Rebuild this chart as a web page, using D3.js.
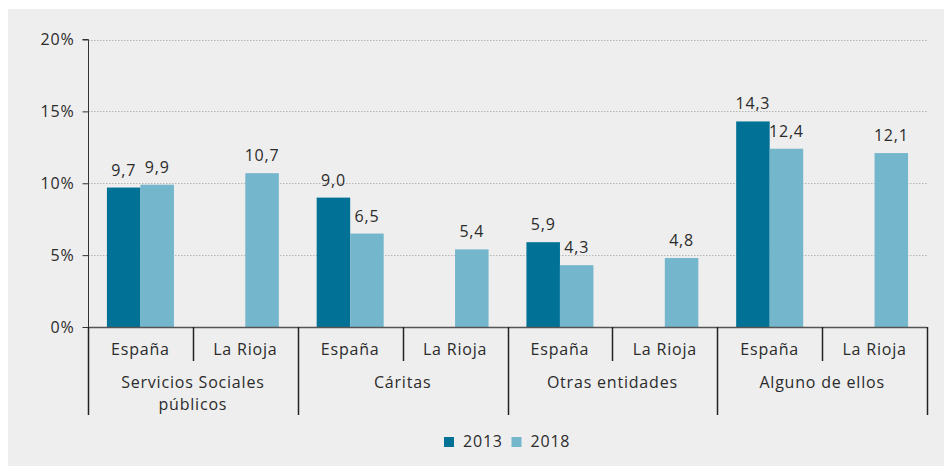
<!DOCTYPE html>
<html>
<head>
<meta charset="utf-8">
<script src="https://cdn.jsdelivr.net/npm/d3@7"></script>
<style>
  html, body { margin: 0; padding: 0; background: #ffffff; }
  svg { display: block; }
  text { font-family: "Open Sans", Lato, sans-serif; fill: #2b2b2b; letter-spacing: 0.8px; }
</style>
</head>
<body>
<svg id="chart" width="944" height="466"></svg>
<script>
// Groups of institutions and the territories inside each
const groups = ["Servicios Sociales públicos", "Cáritas", "Otras entidades", "Alguno de ellos"];
const groupLines = [["Servicios Sociales", "públicos"], ["Cáritas"], ["Otras entidades"], ["Alguno de ellos"]];
const territories = ["España", "La Rioja"];
const years = ["2013", "2018"];

// Percentages per slot (group × territory); null where no value exists
const values2013 = [9.7, null, 9.0, null, 5.9, null, 14.3, null];
const values2018 = [9.9, 10.7, 6.5, 5.4, 4.3, 4.8, 12.4, 12.1];

const yTicks = [0, 5, 10, 15, 20];
const colors = { "2013": "#017196", "2018": "#74b6cb" };

const svg = d3.select("#chart");
const W = 944, H = 466;
const FS = "16px";

// panel background
svg.append("rect").attr("x", 8).attr("y", 9).attr("width", W - 8).attr("height", H - 9).attr("fill", "#eeeeee");

const plotLeft = 88, plotRight = 927, plotTop = 39.5, plotBottom = 327;

const slots = [];
groups.forEach((g, gi) => territories.forEach((t, ti) => slots.push({ g: gi, t, key: gi + "-" + ti })));

const x = d3.scaleBand().domain(slots.map(s => s.key)).range([plotLeft, plotRight]).paddingInner(0).paddingOuter(0);
const xInner = d3.scaleBand().domain(years).range([0, x.bandwidth()]).paddingInner(0).paddingOuter(0.565);
const y = d3.scaleLinear().domain([0, 20]).range([plotBottom, plotTop]);

// grid lines
svg.append("g").selectAll("line").data(yTicks.filter(d => d > 0)).join("line")
  .attr("x1", plotLeft).attr("x2", plotRight)
  .attr("y1", d => Math.round(y(d)) + 0.5).attr("y2", d => Math.round(y(d)) + 0.5)
  .attr("stroke", "#b5b5b5").attr("stroke-width", 1).attr("stroke-dasharray", "1.5,1.5");

// y axis
const yAxis = d3.axisLeft(y).tickValues(yTicks).tickFormat(d => d + "%").tickSize(6).tickPadding(8);
const gy = svg.append("g").attr("transform", `translate(${plotLeft + 0.5},0)`).call(yAxis);
gy.attr("font-family", null);
gy.select(".domain").attr("stroke", "#333").attr("d", `M-6,${y(20)}H0V${y(0)}`);
gy.selectAll(".tick line").attr("stroke", "#333");
gy.selectAll(".tick text").style("font-size", FS).attr("fill", "#2b2b2b");

// bars
const series = [
  { year: "2013", vals: values2013 },
  { year: "2018", vals: values2018 }
];
const barData = [];
series.forEach(s => s.vals.forEach((v, i) => { if (v != null) barData.push({ year: s.year, v, slot: slots[i] }); }));

svg.append("g").selectAll("rect").data(barData).join("rect")
  .attr("x", d => x(d.slot.key) + xInner(d.year))
  .attr("width", xInner.bandwidth())
  .attr("y", d => y(d.v))
  .attr("height", d => y(0) - y(d.v))
  .attr("fill", d => colors[d.year]);

// value labels
svg.append("g").selectAll("text").data(barData).join("text")
  .attr("x", d => x(d.slot.key) + xInner(d.year) + xInner.bandwidth() / 2)
  .attr("y", d => y(d.v) - 12)
  .attr("text-anchor", "middle")
  .style("font-size", FS)
  .text(d => d3.format(".1f")(d.v).replace(".", ","));

// x axis baseline
svg.append("line").attr("x1", plotLeft).attr("x2", plotRight).attr("y1", plotBottom + 0.5).attr("y2", plotBottom + 0.5)
  .attr("stroke", "#555").attr("stroke-width", 1.5);

// territory separators (short) and group separators (long)
const bounds = d3.range(slots.length + 1).map(i => i < slots.length ? x(slots[i].key) : plotRight);
svg.append("g").selectAll("line").data(bounds).join("line")
  .attr("x1", d => Math.round(d) + 0.5).attr("x2", d => Math.round(d) + 0.5)
  .attr("y1", plotBottom).attr("y2", (d, i) => i % 2 === 0 ? 415 : 361)
  .attr("stroke", "#222").attr("stroke-width", 1.5);

// territory labels
svg.append("g").selectAll("text").data(slots).join("text")
  .attr("x", d => x(d.key) + x.bandwidth() / 2)
  .attr("y", 355)
  .attr("text-anchor", "middle")
  .style("font-size", FS)
  .text(d => d.t);

// group labels
groups.forEach((g, gi) => {
  const cx = (x(slots[gi * 2].key) + x(slots[gi * 2 + 1].key) + x.bandwidth()) / 2;
  svg.append("text").attr("x", cx).attr("y", 388).attr("text-anchor", "middle").style("font-size", FS)
    .selectAll("tspan").data(groupLines[gi]).join("tspan")
    .attr("x", cx).attr("dy", (d, i) => i === 0 ? 0 : 22).text(d => d);
});

// legend
const legend = svg.append("g").attr("transform", "translate(444,437)");
const items = legend.selectAll("g").data(years).join("g").attr("transform", (d, i) => `translate(${i * 67.5},0)`);
items.append("rect").attr("width", 10).attr("height", 10).attr("fill", d => colors[d]);
items.append("text").attr("x", 19).attr("y", 10).style("font-size", FS).text(d => d);
</script>
</body>
</html>
